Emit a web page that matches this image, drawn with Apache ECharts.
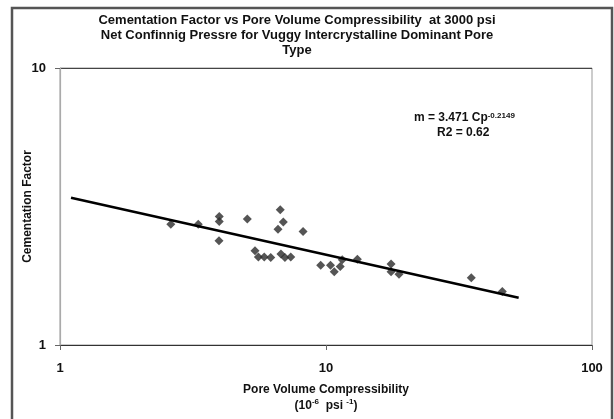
<!DOCTYPE html>
<html>
<head>
<meta charset="utf-8">
<script src="https://cdn.jsdelivr.net/npm/echarts@6.0.0/dist/echarts.min.js"></script>
<style>
  html, body { margin: 0; padding: 0; background: #fff; }
  #main { width: 614px; height: 419px; }
</style>
</head>
<body>
<div id="main"></div>
<script>
// pore volume compressibility (10^-6 psi^-1) and cementation factor
var cpValues = [2.61, 3.31, 3.97, 3.97, 3.96, 5.06, 6.73, 6.91, 6.60, 8.20,
    5.41, 5.57, 5.86, 6.20, 6.77, 7.01, 7.37, 9.55, 10.40, 11.31,
    10.74, 11.51, 13.12, 17.56, 17.56, 18.81, 35.17, 46.0];
var mValues = [2.73, 2.73, 2.91, 2.79, 2.38, 2.85, 3.08, 2.78, 2.62, 2.57,
    2.19, 2.08, 2.08, 2.07, 2.13, 2.07, 2.08, 1.94, 1.94, 1.92,
    1.84, 2.03, 2.04, 1.96, 1.84, 1.80, 1.75, 1.56];
// power trend line end points
var trendX = [1.1, 53];
var trendY = [3.40, 1.48];
var xTicks = [1, 10, 100];
var yTicks = [1, 10];

var points = cpValues.map(function (x, i) { return [x, mValues[i]]; });
var trend = trendX.map(function (x, i) { return [x, trendY[i]]; });

var font = "Liberation Sans, Arial, sans-serif";

var option = {
    backgroundColor: "#fff",
    animation: false,
    textStyle: { fontFamily: font },
    title: {
        text: "Cementation Factor vs Pore Volume Compressibility  at 3000 psi\nNet Confinnig Pressre for Vuggy Intercrystalline Dominant Pore\nType",
        left: 292,
        top: 8,
        textAlign: "center",
        textStyle: {
            fontFamily: font,
            fontSize: 13,
            fontWeight: "bold",
            lineHeight: 15,
            color: "#111",
        },
    },
    grid: {
        left: 60,
        top: 68,
        right: 22,
        bottom: 71,
        show: true,
        borderColor: "#999",
        borderWidth: 1,
        containLabel: false,
    },
    xAxis: {
        type: "log",
        logBase: 10,
        min: 1,
        max: 100,
        name: "Pore Volume Compressibility\n(10{sup|-6}  psi {sup|-1})",
        nameLocation: "middle",
        nameGap: 37,
        nameTextStyle: {
            fontFamily: font,
            fontSize: 12,
            fontWeight: "bold",
            color: "#111",
            lineHeight: 16,
            rich: {
                sup: { fontSize: 8, fontWeight: "bold", verticalAlign: "top", color: "#111", lineHeight: 10 },
            },
        },
        axisLine: { show: true, lineStyle: { color: "#333", width: 1.2 } },
        axisTick: { show: true, inside: false, length: 5, lineStyle: { color: "#666" } },
        axisLabel: {
            margin: 17,
            fontFamily: font,
            fontSize: 13,
            fontWeight: "bold",
            color: "#111",
            customValues: xTicks,
            formatter: function (v) { return String(Math.round(v)); },
        },
        splitLine: { show: false },
    },
    yAxis: {
        type: "log",
        logBase: 10,
        min: 1,
        max: 10,
        name: "Cementation Factor",
        nameLocation: "middle",
        nameRotate: 90,
        nameGap: 26,
        nameMoveOverlap: false,
        nameTextStyle: {
            fontFamily: font,
            fontSize: 12,
            fontWeight: "bold",
            color: "#111",
        },
        axisLine: { show: true, lineStyle: { color: "#aaa", width: 1.2 } },
        axisTick: { show: true, inside: false, length: 5, lineStyle: { color: "#666" } },
        axisLabel: {
            margin: 14,
            fontFamily: font,
            fontSize: 13,
            fontWeight: "bold",
            color: "#111",
            customValues: yTicks,
            formatter: function (v) { return String(Math.round(v)); },
        },
        splitLine: { show: true, lineStyle: { color: "#444", width: 1 } },
    },
    series: [
        {
            name: "data",
            type: "scatter",
            data: points,
            symbol: "diamond",
            symbolSize: 9,
            itemStyle: { color: "#2a2a2a" },
            z: 3,
        },
        {
            name: "trend",
            type: "line",
            data: trend,
            showSymbol: false,
            symbol: "none",
            lineStyle: { color: "#000", width: 2.5 },
            z: 4,
        },
    ],
    graphic: [
        {
            type: "rect",
            shape: { x: 12, y: 8, width: 600, height: 425 },
            style: { fill: "none", stroke: "#555", lineWidth: 2.5 },
            silent: true,
        },
        {
            type: "text",
            left: 414,
            top: 112,
            style: {
                text: "m = 3.471 Cp{sup|-0.2149}",
                font: "bold 12px " + font,
                fill: "#111",
                rich: {
                    sup: { font: "bold 8px " + font, verticalAlign: "top", fill: "#111" },
                },
            },
        },
        {
            type: "text",
            left: 437,
            top: 127,
            style: {
                text: "R2 = 0.62",
                font: "bold 12px " + font,
                fill: "#111",
            },
        },
    ],
};

var myChart = echarts.init(document.getElementById("main"));
myChart.setOption(option);
</script>
</body>
</html>
